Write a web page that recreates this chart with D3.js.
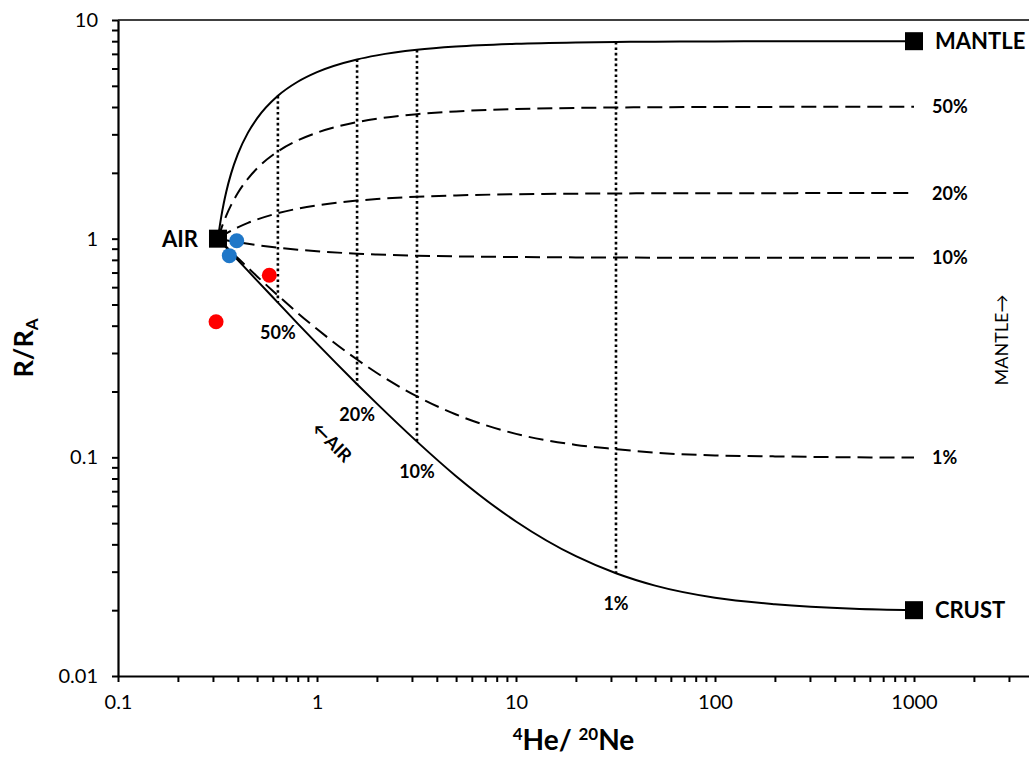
<!DOCTYPE html>
<html><head><meta charset="utf-8">
<script src="https://cdn.jsdelivr.net/npm/d3@7"></script>
<style>
body{margin:0;background:#fff}
svg{display:block}
text{font-family:Lato,"DejaVu Sans",sans-serif;fill:#000}
</style>
</head><body>
<svg id="chart" width="1029" height="757"></svg>
<script>
// ---- data ----
const heNe = [0.318,0.32,0.325,0.33,0.34,0.35,0.37,0.4,0.45,0.5,0.636,0.8,1,1.59,2,3.18,5,10,20,31.8,50,100,200,500,1000];
const airMantle = [1,1.044,1.151,1.255,1.453,1.640,1.984,2.435,3.054,3.549,4.501,5.219,5.776,6.602,6.889,7.302,7.557,7.780,7.891,7.932,7.958,7.980,7.991,7.998,8];
const mix50 = [1,1.019,1.065,1.109,1.195,1.275,1.423,1.617,1.883,2.096,2.506,2.814,3.054,3.409,3.532,3.710,3.820,3.915,3.963,3.981,3.992,4.001,4.006,4.009,4.01];
const mix20 = [1,1.004,1.013,1.022,1.040,1.056,1.087,1.126,1.181,1.224,1.308,1.371,1.420,1.493,1.518,1.555,1.577,1.597,1.606,1.610,1.612,1.614,1.615,1.616,1.616];
const mix10 = [1,0.999,0.996,0.993,0.988,0.983,0.974,0.963,0.947,0.934,0.909,0.890,0.876,0.854,0.847,0.836,0.830,0.824,0.821,0.820,0.819,0.819,0.818,0.818,0.818];
const mix01 = [1,0.994,0.981,0.967,0.942,0.918,0.873,0.815,0.736,0.672,0.550,0.457,0.386,0.280,0.243,0.190,0.157,0.128,0.114,0.109,0.105,0.102,0.101,0.100,0.0998];
const airCrust = [1,0.994,0.979,0.964,0.937,0.910,0.862,0.799,0.712,0.643,0.510,0.409,0.331,0.216,0.176,0.118,0.082,0.0509,0.0353,0.0295,0.0259,0.0228,0.0213,0.0203,0.02];
const dashedLabels = ["50%","20%","10%","1%"];

const tieX = [0.636,1.59,3.18,31.8];
const tieTop = [4.501,6.602,7.302,7.932];
const tieBottom = [0.510,0.216,0.118,0.0295];
const tieLabels = ["50%","20%","10%","1%"];

const endNames = ["AIR","MANTLE","CRUST"];
const endX = [0.318,1000,1000];
const endY = [1,8,0.02];

const blueX = [0.395,0.3625];
const blueY = [0.979,0.836];
const redX = [0.576,0.311];
const redY = [0.680,0.417];

const xTickLabels = ["0.1","1","10","100","1000"];
const yTickLabels = ["0.01","0.1","1","10"];

// ---- drawing ----
const svg = d3.select("#chart");
const x0 = 118, decX = 199;
const x = d3.scaleLog().domain([0.1, 3900]).range([x0, x0 + decX*Math.log10(39000)]);
const y = d3.scaleLog().domain([0.01, 10]).range([676, 20]);

const fmtX = v => { const s = xTickLabels.find(t => Math.abs(+t - v) < 1e-9); return s || ""; };
const fmtY = v => { const s = yTickLabels.find(t => Math.abs(+t - v) < 1e-12); return s || ""; };

const gx = svg.append("g").attr("transform", "translate(0,676)")
  .call(d3.axisBottom(x).tickValues(x.ticks()).tickFormat(fmtX).tickSize(6).tickSizeOuter(0).tickPadding(13));
const gy = svg.append("g").attr("transform", `translate(${x0},0)`)
  .call(d3.axisLeft(y).tickValues(y.ticks()).tickFormat(fmtY).tickSize(6).tickSizeOuter(0).tickPadding(14));
[gx, gy].forEach(g => {
  g.select(".domain").attr("stroke", "#000").attr("stroke-width", 2.2);
  g.selectAll(".tick line").attr("stroke", "#000").attr("stroke-width", 2);
  g.selectAll(".tick text").attr("font-size", 20).attr("font-family", "Lato").attr("fill", "#000");
});
// top frame line
svg.append("line").attr("x1", x0).attr("x2", 1029).attr("y1", y(10)).attr("y2", y(10))
  .attr("stroke", "#000").attr("stroke-width", 1.6);

const line = d3.line().x(d => x(d[0])).y(d => y(d[1])).curve(d3.curveMonotoneX);
const pts = arr => heNe.map((v, i) => [v, arr[i]]);

// dotted tie lines
tieX.forEach((tx, i) => {
  svg.append("line").attr("x1", x(tx)).attr("x2", x(tx)).attr("y1", y(tieTop[i])).attr("y2", y(tieBottom[i]))
    .attr("stroke", "#000").attr("stroke-width", 2.6).attr("stroke-dasharray", "2.6,2.8");
});

// dashed mixing curves
[mix50, mix20, mix10, mix01].forEach(arr => {
  svg.append("path").attr("d", line(pts(arr))).attr("fill", "none")
    .attr("stroke", "#000").attr("stroke-width", 2).attr("stroke-dasharray", "15,7");
});
// solid binary curves
[airMantle, airCrust].forEach(arr => {
  svg.append("path").attr("d", line(pts(arr))).attr("fill", "none")
    .attr("stroke", "#000").attr("stroke-width", 2);
});

// end-member squares
endX.forEach((ex, i) => {
  svg.append("rect").attr("x", x(ex) - 9).attr("y", y(endY[i]) - 9).attr("width", 18).attr("height", 18).attr("fill", "#000");
});

// samples
redX.forEach((rx, i) => svg.append("circle").attr("cx", x(rx)).attr("cy", y(redY[i])).attr("r", 7.5).attr("fill", "#ff0000"));
blueX.forEach((bx, i) => svg.append("circle").attr("cx", x(bx)).attr("cy", y(blueY[i])).attr("r", 7.5).attr("fill", "#1f77c8"));

// end member labels
svg.append("text").attr("x", x(endX[0]) - 20).attr("y", y(endY[0])).attr("dy", "0.36em")
  .attr("text-anchor", "end").attr("font-size", 22).attr("font-weight", "bold").text(endNames[0]);
svg.append("text").attr("x", 935).attr("y", y(endY[1])).attr("dy", "0.36em")
  .attr("font-size", 22).attr("font-weight", "bold").text(endNames[1]);
svg.append("text").attr("x", 935).attr("y", y(endY[2])).attr("dy", "0.36em")
  .attr("font-size", 22).attr("font-weight", "bold").text(endNames[2]);

// percent labels at right
[mix50, mix20, mix10, mix01].forEach((arr, i) => {
  svg.append("text").attr("x", 932).attr("y", y(arr[arr.length - 1])).attr("dy", "0.36em")
    .attr("font-size", 18).attr("font-weight", "bold").text(dashedLabels[i]);
});
// tie-line labels
tieX.forEach((tx, i) => {
  svg.append("text").attr("x", x(tx)).attr("y", y(tieBottom[i]) + 30).attr("dy", "0.36em")
    .attr("text-anchor", "middle").attr("font-size", 18).attr("font-weight", "bold").text(tieLabels[i]);
});

// rotated annotations
svg.append("text").attr("transform", "translate(332,442) rotate(45)").attr("text-anchor", "middle").attr("dy", "0.36em")
  .attr("font-size", 18).attr("font-weight", "bold").text("\u2190AIR");
svg.append("text").attr("transform", "translate(1002,340) rotate(-90)").attr("text-anchor", "middle").attr("dy", "0.36em")
  .attr("font-size", 18).text("MANTLE\u2192");

// axis titles
const xt = svg.append("text").attr("x", (x0 + 1029) / 2).attr("y", 750).attr("text-anchor", "middle")
  .attr("font-size", 28).attr("font-weight", "bold");
xt.append("tspan").attr("font-size", 17).attr("dy", -10).text("4");
xt.append("tspan").attr("dy", 10).text("He/ ");
xt.append("tspan").attr("font-size", 17).attr("dy", -10).text("20");
xt.append("tspan").attr("dy", 10).text("Ne");

const yt = svg.append("text").attr("transform", "translate(33,348) rotate(-90)").attr("text-anchor", "middle")
  .attr("font-size", 27).attr("font-weight", "bold");
yt.append("tspan").text("R/R");
yt.append("tspan").attr("font-size", 17).attr("dy", 5).text("A");
</script>
</body></html>
